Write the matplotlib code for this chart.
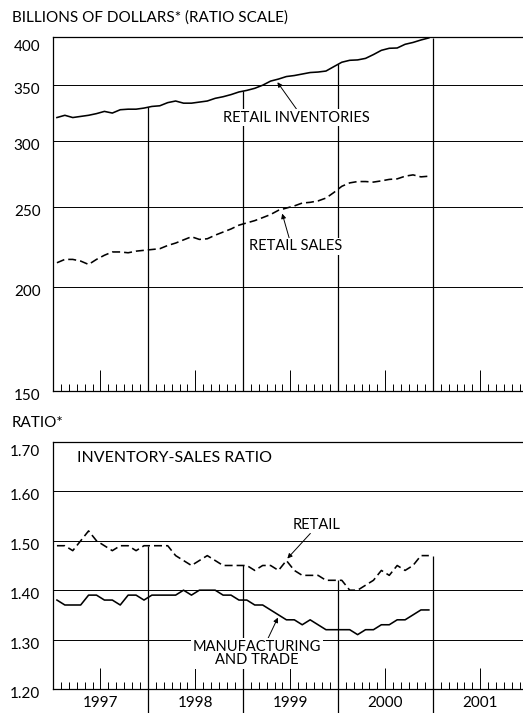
import numpy as np
import matplotlib
matplotlib.use('Agg')
import matplotlib.pyplot as plt
import matplotlib.transforms as mtransforms

plt.rcParams['font.family'] = ['Lato', 'DejaVu Sans']

# monthly data, Jan 1997 - Dec 2000
start_year = 1997
n_months = 48
years = ['1997', '1998', '1999', '2000', '2001']

retail_inventories = [320, 322, 320, 321, 322, 323.5, 325.5, 324, 327, 327.5, 327.5, 328.5,
                      330, 330.6, 333.5, 335, 333, 333, 334, 335, 337.5, 339, 341, 343.5,
                      345, 347, 350, 354, 356, 358.5, 359.5, 361, 362.5, 363, 364, 368.5,
                      373, 375, 375.4, 377, 381, 385.5, 387.7, 388, 392, 394, 396.7, 399]

retail_sales = [214, 216, 216, 215, 213, 216, 218.5, 220.5, 220.5, 220, 221, 221.5,
                222, 222.5, 224.5, 226, 228, 230, 228.3, 228.7, 231, 233, 235, 237.5,
                239, 240.5, 242.5, 244.6, 247.5, 249, 250.5, 252.5, 253, 254, 256, 260,
                264.5, 267, 268, 268, 267.6, 268.5, 269.6, 270, 272, 273, 271.5, 272]

retail_ratio = [1.49, 1.49, 1.48, 1.50, 1.52, 1.50, 1.49, 1.48, 1.49, 1.49, 1.48, 1.49,
                1.49, 1.49, 1.49, 1.47, 1.46, 1.45, 1.46, 1.47, 1.46, 1.45, 1.45, 1.45,
                1.45, 1.44, 1.45, 1.45, 1.44, 1.46, 1.44, 1.43, 1.43, 1.43, 1.42, 1.42,
                1.42, 1.40, 1.40, 1.41, 1.42, 1.44, 1.43, 1.45, 1.44, 1.45, 1.47, 1.47]

mfg_trade_ratio = [1.38, 1.37, 1.37, 1.37, 1.39, 1.39, 1.38, 1.38, 1.37, 1.39, 1.39, 1.38,
                   1.39, 1.39, 1.39, 1.39, 1.40, 1.39, 1.40, 1.40, 1.40, 1.39, 1.39, 1.38,
                   1.38, 1.37, 1.37, 1.36, 1.35, 1.34, 1.34, 1.33, 1.34, 1.33, 1.32, 1.32,
                   1.32, 1.32, 1.31, 1.32, 1.32, 1.33, 1.33, 1.34, 1.34, 1.35, 1.36, 1.36]

top_ticks = [150, 200, 250, 300, 350, 400]
bottom_ticks = [1.20, 1.30, 1.40, 1.50, 1.60, 1.70]

x = start_year + (np.arange(n_months) + 0.5) / 12
x_min, x_max = 1997, 2001.95
year_bounds = [1998, 1999, 2000, 2001]
mid_years = [int(y) + 0.5 for y in years]
months = [start_year + m / 12 for m in range(1, 61) if m % 12 not in (0, 6)]

fig = plt.figure(figsize=(5.23, 7.13), dpi=100)
ax1 = fig.add_axes([0.1013, 0.4516, 0.8987, 0.4965])
ax2 = fig.add_axes([0.1013, 0.0337, 0.8987, 0.3464])

dash = (0, (5, 2.5))
lw = 1.15


def style_axis(ax):
    ax.set_xlim(x_min, x_max)
    for s in ['left', 'top', 'bottom']:
        ax.spines[s].set_linewidth(0.9)
    ax.spines['right'].set_visible(False)
    ax.grid(axis='y', color='black', lw=0.7)
    ax.set_axisbelow(True)
    ax.tick_params(axis='y', length=0, labelsize=11, pad=9)
    ax.set_xticks(months)
    ax.set_xticklabels([])
    ax.tick_params(axis='x', which='major', direction='in', length=5, width=0.7)
    ax.tick_params(axis='x', which='minor', direction='in', length=15, width=0.7,
                   labelsize=11, pad=5)
    # shift y labels a bit down like the original, the top one a little more
    labs = ax.get_yticklabels()
    for i, lab in enumerate(labs):
        dy = 6 if i == len(labs) - 1 else 2.5
        off = mtransforms.ScaledTranslation(0, -dy / 72, fig.dpi_scale_trans)
        lab.set_transform(lab.get_transform() + off)


# top panel
ax1.set_yscale('log')
ax1.set_ylim(150, 400)
ax1.plot(x, retail_inventories, color='black', lw=lw)
ax1.plot(x, retail_sales, color='black', lw=lw, linestyle=dash)
ax1.set_yticks(top_ticks, [str(t) for t in top_ticks])
ax1.yaxis.set_minor_locator(matplotlib.ticker.NullLocator())
ax1.set_xticks(mid_years, minor=True)
style_axis(ax1)
ax1.set_xticklabels([], minor=True)
for yb in year_bounds:
    ax1.vlines(yb, 150, np.interp(yb, x, retail_inventories), color='black', lw=0.9)

box = dict(fc='white', ec='none', pad=1)
arrow = dict(arrowstyle='-|>', lw=0.7, color='black', mutation_scale=7, shrinkA=0, shrinkB=1)
ax1.annotate('RETAIL INVENTORIES', xy=(x[28] - 0.02, retail_inventories[28] - 2),
             xytext=(1999.56, 320), ha='center', va='center', fontsize=10.5, bbox=box,
             arrowprops=dict(arrow, relpos=(0.51, 1)))
ax1.annotate('RETAIL SALES', xy=(1999.41, np.interp(1999.41, x, retail_sales) - 2),
             xytext=(1999.56, 224), ha='center', va='center', fontsize=10.5, bbox=box,
             arrowprops=dict(arrow, relpos=(0.43, 1)))

# bottom panel
ax2.set_ylim(1.20, 1.70)
ax2.plot(x, retail_ratio, color='black', lw=lw, linestyle=dash)
ax2.plot(x, mfg_trade_ratio, color='black', lw=lw)
ax2.set_yticks(bottom_ticks, ['%.2f' % t for t in bottom_ticks])
ax2.set_xticks(mid_years, years, minor=True)
style_axis(ax2)
blend = mtransforms.blended_transform_factory(ax2.transData, ax2.transAxes)
for yb in year_bounds:
    ax2.vlines(yb, 1.20, np.interp(yb, x, retail_ratio), color='black', lw=0.9)
    ax2.plot([yb, yb], [-0.1, 0], color='black', lw=0.9, transform=blend, clip_on=False)

ax2.text(1997.25, 1.668, 'INVENTORY-SALES RATIO', ha='left', va='center', fontsize=11.5)
ax2.annotate('RETAIL', xy=(x[29], retail_ratio[29] + 0.002), xytext=(1999.78, 1.532),
             ha='center', va='center', fontsize=10.5, bbox=box,
             arrowprops=dict(arrow, relpos=(0.39, 0)))
ax2.annotate('MANUFACTURING\nAND TRADE', xy=(x[28], mfg_trade_ratio[28] - 0.003),
             xytext=(1999.15, 1.272), ha='center', va='center', fontsize=10.5,
             linespacing=0.95, bbox=box, arrowprops=dict(arrow, relpos=(0.58, 1)))

fig.text(0.023, 0.976, 'BILLIONS OF DOLLARS* (RATIO SCALE)', ha='left', va='center', fontsize=11)
fig.text(0.023, 0.4067, 'RATIO*', ha='left', va='center', fontsize=11)

fig.savefig('out.png', dpi=100)
